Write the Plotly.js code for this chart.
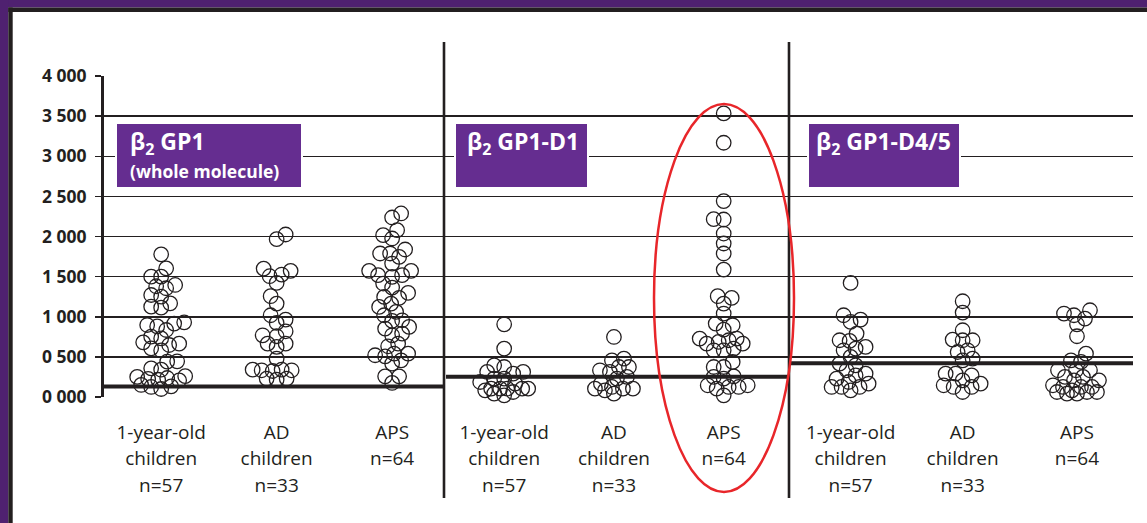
<!DOCTYPE html>
<html><head><meta charset="utf-8">
<script src="https://cdn.plot.ly/plotly-3.0.1.min.js"></script>
<style>html,body{margin:0;padding:0;background:#fff;overflow:hidden}#chart{width:1147px;height:523px}</style>
</head><body><div id="chart"></div>
<script>
// ---------------- data ----------------
const categories = [["1-year-old", "children", "n=57"], ["AD", "children", "n=33"], ["APS", "n=64"]];
const panelTitles = ["β<sub>2</sub> GP1", "β<sub>2</sub> GP1-D1", "β<sub>2</sub> GP1-D4/5"];
const panelSubtitles = ["(whole molecule)", "", ""];

const wholeChildren = [1778, 1603, 1500, 1500, 1396, 1380, 1355, 1271, 1250, 1167, 1126, 1113, 930, 915, 897, 880, 835, 752, 730, 681, 665, 648, 606, 580, 445, 440, 357, 340, 260, 250, 237, 225, 215, 208, 150, 133, 125, 100];
const wholeAD = [2025, 1967, 1600, 1572, 1526, 1505, 1422, 1256, 1164, 1019, 965, 923, 819, 769, 757, 665, 665, 624, 478, 341, 341, 333, 333, 324, 229, 229, 216];
const wholeAPS = [2287, 2237, 2079, 2017, 1975, 1838, 1788, 1788, 1746, 1663, 1572, 1572, 1518, 1518, 1497, 1414, 1364, 1297, 1247, 1235, 1164, 1123, 1060, 1019, 956, 948, 873, 852, 790, 769, 665, 632, 540, 540, 520, 507, 457, 416, 258, 258, 175];

const d1Children = [906, 603, 395, 374, 312, 312, 291, 229, 229, 187, 166, 104, 104, 104, 104, 104, 83, 62, 42, 21];
const d1AD = [748, 478, 457, 374, 374, 333, 312, 250, 229, 166, 125, 104, 104, 104, 83, 42];
const d1APS = [3534, 3168, 2441, 2216, 2212, 2037, 1913, 1788, 1588, 1256, 1235, 1164, 1040, 915, 894, 840, 728, 728, 707, 686, 665, 665, 603, 582, 582, 437, 374, 374, 258, 250, 229, 146, 146, 125, 125, 104, 21];

const d45Children = [1422, 1019, 965, 936, 790, 707, 699, 624, 603, 582, 499, 416, 395, 333, 291, 270, 229, 187, 166, 125, 125, 125, 83];
const d45AD = [1193, 1052, 832, 715, 707, 707, 582, 561, 478, 457, 291, 291, 270, 208, 166, 146, 125, 125, 62];
const d45APS = [1081, 1040, 1019, 977, 906, 757, 540, 457, 437, 333, 333, 333, 250, 250, 208, 208, 146, 125, 125, 125, 83, 62, 62, 62, 42, 42];

const cutoffs = [131, 253, 420];
const yTickVals = [0, 500, 1000, 1500, 2000, 2500, 3000, 3500, 4000];
const yTickText = ["0 000", "0 500", "1 000", "1 500", "2 000", "2 500", "3 000", "3 500", "4 000"];

// ---------------- layout constants ----------------
const W = 1147, H = 523, ML = 104, MR = 14, MT = 76, MB = 126;
const plotW = W - ML - MR, plotH = H - MT - MB;
const XR = [-0.5, 8.5], YR = [0, 4000];
const groupX = [0, 1.01, 2.02, 3.0, 3.96, 4.92, 6.03, 7.01, 8.01];
const pxPerX = plotW / (XR[1] - XR[0]);
const pxPerY = plotH / (YR[1] - YR[0]);
const INK = "#231F20", FRAME = "#4F2170", BOX = "#652D90", RED = "#E8262A";
const FONT = "Open Sans, Noto Sans, sans-serif";
const fx = px => (px - ML) / plotW;
const fy = py => (H - MB - py) / plotH;

// beeswarm-like horizontal spread, computed in pixel space
const MINDIST = 9.5, MAXOFF = 24;
function swarmOffsets(values) {
  const order = values.map((v, i) => i).sort((a, b) => values[a] - values[b]);
  const placed = [];
  const off = new Array(values.length).fill(0);
  order.forEach((idx, n) => {
    const y = values[idx] * pxPerY;
    let best = 0, bestD = -1, done = false;
    const sgn = n % 2 === 0 ? 1 : -1;
    for (let s = 0; s <= MAXOFF && !done; s += 1) {
      const cands = s === 0 ? [0] : [s * sgn, -s * sgn];
      for (const d of cands) {
        let md = Infinity;
        for (const p of placed) { const dd = Math.hypot(p.x - d, p.y - y); if (dd < md) md = dd; }
        if (md >= MINDIST) { best = d; done = true; break; }
        if (md > bestD) { bestD = md; best = d; }
      }
    }
    placed.push({ x: best, y });
    off[idx] = best;
  });
  return off;
}

const groups = [wholeChildren, wholeAD, wholeAPS, d1Children, d1AD, d1APS, d45Children, d45AD, d45APS];
const traces = groups.map((vals, k) => {
  const off = swarmOffsets(vals);
  return {
    type: "scatter", mode: "markers",
    x: vals.map((v, i) => groupX[k] + off[i] / pxPerX),
    y: vals,
    marker: { symbol: "circle-open", size: 14.5, color: INK, line: { width: 1.3, color: INK } },
    hoverinfo: "skip", showlegend: false, cliponaxis: false
  };
});

const shapes = [
  // outer frame
  { type: "rect", xref: "paper", yref: "paper", x0: fx(0), x1: fx(W), y0: fy(7.5), y1: fy(0), fillcolor: FRAME, line: { width: 0 } },
  { type: "rect", xref: "paper", yref: "paper", x0: fx(0), x1: fx(8.3), y0: fy(H), y1: fy(0), fillcolor: FRAME, line: { width: 0 } },
  { type: "rect", xref: "paper", yref: "paper", x0: fx(8.3), x1: fx(W), y0: fy(12), y1: fy(7.5), fillcolor: INK, line: { width: 0 } },
  { type: "rect", xref: "paper", yref: "paper", x0: fx(8.3), x1: fx(12.7), y0: fy(H), y1: fy(7.5), fillcolor: INK, line: { width: 0 } },
  // panel separators
  { type: "line", xref: "paper", yref: "paper", x0: fx(444), x1: fx(444), y0: fy(498), y1: fy(42), line: { color: INK, width: 2.6 } },
  { type: "line", xref: "paper", yref: "paper", x0: fx(789), x1: fx(789), y0: fy(498), y1: fy(42), line: { color: INK, width: 2.6 } }
];
// cutoff lines (data y)
const cutSpans = [[104, 444], [446, 788], [790, 1133]];
cutoffs.forEach((c, i) => shapes.push({ type: "line", xref: "paper", yref: "y", x0: fx(cutSpans[i][0]), x1: fx(cutSpans[i][1]), y0: c, y1: c, line: { color: INK, width: 4 } }));
// label boxes
const boxSpans = [[116, 302], [455, 588], [808, 960]];
boxSpans.forEach(b => shapes.push({ type: "rect", xref: "paper", yref: "paper", x0: fx(b[0]), x1: fx(b[1]), y0: fy(188), y1: fy(123), fillcolor: BOX, line: { color: "#ffffff", width: 2 } }));
// red ellipse
shapes.push({ type: "circle", xref: "paper", yref: "paper", x0: fx(654), x1: fx(794), y0: fy(492), y1: fy(104), line: { color: RED, width: 2.5 } });

const textX = [128, 465, 814];
const annotations = [];
panelTitles.forEach((t, i) => {
  annotations.push({ xref: "paper", yref: "paper", x: fx(textX[i]), y: fy(142), xanchor: "left", yanchor: "middle", text: t, showarrow: false, font: { family: FONT, size: 23, color: "#ffffff", weight: "bold" } });
  if (panelSubtitles[i]) annotations.push({ xref: "paper", yref: "paper", x: fx(textX[i]), y: fy(171), xanchor: "left", yanchor: "middle", text: panelSubtitles[i], showarrow: false, font: { family: FONT, size: 17.5, color: "#ffffff", weight: "bold" } });
});

// tick labels: larger element font gives the reference's wide line spacing, glyphs drawn at 19px
const tickLabel = lines => lines.map(s => '<span style="font-size:19px">' + s + '</span>').join("<br>");

const layout = {
  width: W, height: H,
  margin: { l: ML, r: MR, t: MT, b: MB, pad: 0 },
  paper_bgcolor: "#ffffff", plot_bgcolor: "rgba(0,0,0,0)",
  xaxis: {
    range: XR, tickmode: "array", tickvals: groupX, ticktext: groupX.map((_, k) => tickLabel(categories[k % 3])),
    showgrid: false, zeroline: false, showline: false, ticks: "", ticklabelstandoff: 20,
    tickfont: { family: FONT, size: 20.5, color: INK }, fixedrange: true
  },
  yaxis: {
    range: YR, tickmode: "array", tickvals: yTickVals, ticktext: yTickText,
    ticks: "outside", ticklen: 6, tickwidth: 1.5, tickcolor: INK,
    showline: true, linewidth: 3, linecolor: INK,
    showgrid: true, gridcolor: INK, gridwidth: 1.5, zeroline: false,
    ticklabelstandoff: 5,
    tickfont: { family: FONT, size: 17.5, color: INK, weight: "bold" }, fixedrange: true
  },
  shapes: shapes, annotations: annotations, showlegend: false
};

Plotly.newPlot("chart", traces, layout, { staticPlot: true, displayModeBar: false });
</script>
</body></html>
